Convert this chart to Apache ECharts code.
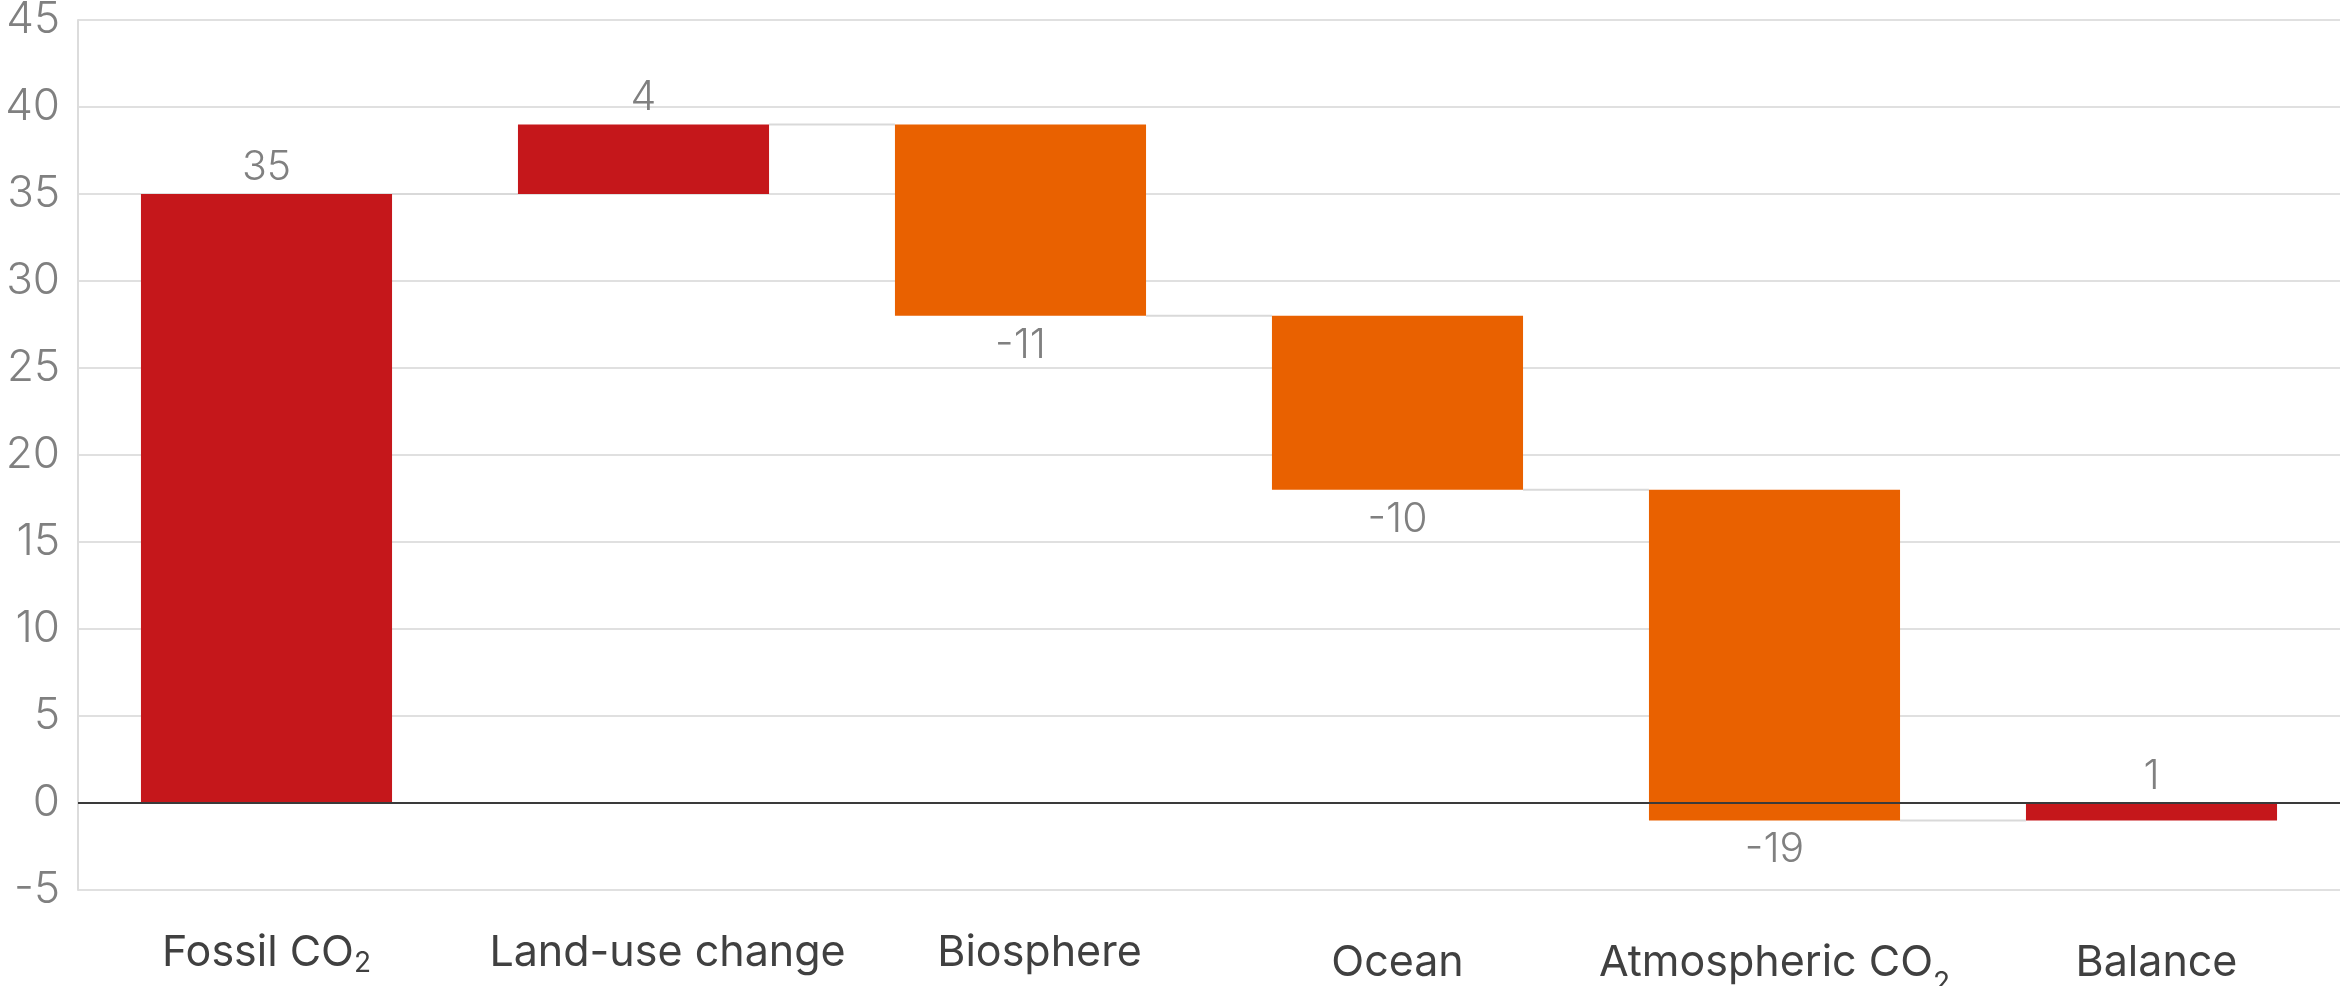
<!DOCTYPE html>
<html>
<head>
<meta charset="utf-8">
<title>Global carbon budget</title>
<script src="https://cdn.jsdelivr.net/npm/echarts@6/dist/echarts.min.js"></script>
<style>
  html, body { margin: 0; padding: 0; background: #ffffff; overflow: hidden; }
  #chart { display: block; width: 2340px; height: 986px; }
</style>
</head>
<body>
<div id="chart"></div>
<script>
// Sources and sinks of CO2 (GtCO2 per year)
const categories = ['Fossil CO2', 'Land-use change', 'Biosphere', 'Ocean', 'Atmospheric CO2', 'Balance'];
const changes = [35, 4, -11, -10, -19, 1];
// Labels of the last three categories sit a little lower
const lowLabel = [false, false, false, true, true, true];
// Horizontal nudge (px) of some category labels to the right
const labelShift = [0, 24, 19, 0, 0, 5];

const yMin = -5, yMax = 45, yStep = 5;

const RED = '#c5171b';
const ORANGE = '#e96100';
const FONT = 'Inter, "Noto Sans", sans-serif';

// Running totals give each bar its start and end level
const bars = [];
let level = 0;
changes.forEach(function (c, i) {
  const start = level;
  const end = start + c;
  bars.push([i, start, end, c]);
  level = end;
});

const BAR_RATIO = 0.666;

function renderItem(params, api) {
  const i = api.value(0);
  const start = api.value(1);
  const end = api.value(2);
  const change = api.value(3);
  const p0 = api.coord([i, start]);
  const p1 = api.coord([i, end]);
  const bw = api.size([1, 0])[0] * BAR_RATIO;
  const top = Math.min(p0[1], p1[1]);
  const h = Math.abs(p1[1] - p0[1]);
  const children = [];

  // connector from this bar's end level to the next bar
  if (i < categories.length - 1) {
    const next = api.coord([i + 1, end]);
    children.push({
      type: 'line',
      z2: 1,
      shape: { x1: p0[0] + bw / 2, y1: p1[1], x2: next[0] - bw / 2, y2: p1[1] },
      style: { stroke: '#d9d9d9', lineWidth: 2 }
    });
  }

  children.push({
    type: 'rect',
    z2: 2,
    shape: { x: p0[0] - bw / 2, y: top, width: bw, height: h },
    style: { fill: change >= 0 ? RED : ORANGE }
  });

  const up = change >= 0;
  children.push({
    type: 'text',
    z2: 3,
    style: {
      text: String(change),
      x: p0[0],
      y: up ? top - 6 : top + h + 9,
      align: 'center',
      verticalAlign: up ? 'bottom' : 'top',
      fill: '#808080',
      font: '300 41px ' + FONT
    }
  });

  return { type: 'group', children: children };
}

// Rich styles: main text, CO2 subscript, and a spacer per category
const rich = {
  u: { fontFamily: FONT, fontSize: 43, color: '#404040', lineHeight: 50, verticalAlign: 'middle' },
  us: { fontFamily: FONT, fontSize: 28, color: '#404040', lineHeight: 22, verticalAlign: 'bottom' },
  d: { fontFamily: FONT, fontSize: 43, color: '#404040', lineHeight: 70, verticalAlign: 'middle' },
  ds: { fontFamily: FONT, fontSize: 28, color: '#404040', lineHeight: 42, verticalAlign: 'bottom' }
};
labelShift.forEach(function (s, i) {
  rich['gap' + i] = { width: 2 * s, fontSize: 10, lineHeight: 10 };
});

function categoryLabel(name, idx) {
  const low = lowLabel[idx];
  const main = low ? 'd' : 'u';
  const sub = low ? 'ds' : 'us';
  const gap = labelShift[idx] > 0 ? '{gap' + idx + '| }' : '';
  const m = name.match(/^(.*CO)2$/);
  if (m) {
    return gap + '{' + main + '|' + m[1] + '}{' + sub + '|2}';
  }
  return gap + '{' + main + '|' + name + '}';
}

const chart = echarts.init(document.getElementById('chart'), null, { renderer: 'canvas' });

chart.setOption({
  animation: false,
  backgroundColor: '#ffffff',
  grid: {
    left: 78, right: 0, top: 20, bottom: 96,
    containLabel: false,
    outerBoundsMode: 'none'
  },
  xAxis: {
    type: 'category',
    data: categories,
    axisLine: { show: false, onZero: false },
    axisTick: { show: false },
    splitLine: { show: false },
    axisLabel: {
      interval: 0,
      margin: 38,
      verticalAlign: 'top',
      formatter: categoryLabel,
      rich: rich
    }
  },
  yAxis: {
    type: 'value',
    min: yMin,
    max: yMax,
    interval: yStep,
    axisLine: { show: true, lineStyle: { color: '#dcdcdc', width: 2 } },
    axisTick: { show: false },
    splitLine: { show: true, lineStyle: { color: '#e0e0e0', width: 2 } },
    axisLabel: {
      margin: 18,
      color: '#808080',
      fontFamily: FONT,
      fontWeight: 300,
      fontSize: 44
    }
  },
  series: [{
    type: 'custom',
    renderItem: renderItem,
    data: bars,
    encode: { x: 0, y: [1, 2] },
    markLine: {
      silent: true,
      symbol: 'none',
      label: { show: false },
      lineStyle: { color: '#3a3a3a', width: 2, type: 'solid' },
      data: [{ yAxis: 0 }],
      z: 10
    }
  }]
});
</script>
</body>
</html>
